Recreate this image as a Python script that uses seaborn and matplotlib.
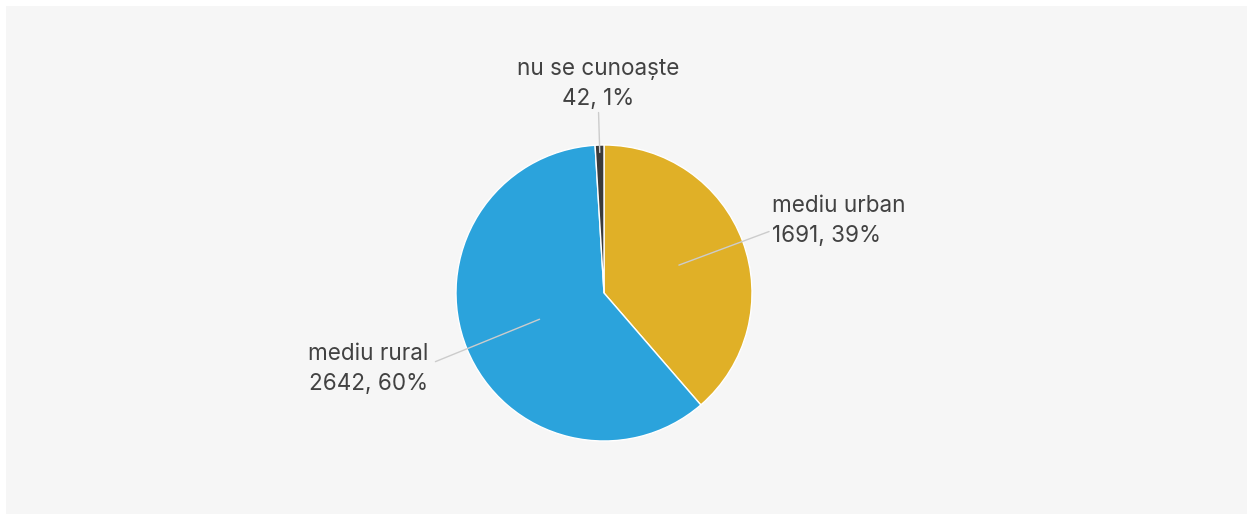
import numpy as np
import matplotlib
matplotlib.use("Agg")
import matplotlib.pyplot as plt
import seaborn as sns
from matplotlib.patches import Rectangle

categories = ["mediu urban", "mediu rural", "nu se cunoaște"]
values = [1691, 2642, 42]
percent_labels = ["39%", "60%", "1%"]
colors = ["#E0B027", "#2BA3DC", "#3A3A3A"]

sns.set_theme(style="white")
plt.rcParams['font.family'] = ['Inter', 'DejaVu Sans']

W, H = 1253, 520
fig = plt.figure(figsize=(W / 100, H / 100), dpi=100)
fig.patches.append(Rectangle((6 / W, 6 / H), (W - 12) / W, (H - 12) / H,
                             transform=fig.transFigure, facecolor="#F6F6F6",
                             edgecolor="none", zorder=-10))
R = 148.0
cx, cy = 604, 293
ax = fig.add_axes([0, 0, 1, 1])
ax.set_facecolor("none")
ax.patch.set_visible(False)

wedges, _ = ax.pie(values, colors=colors, startangle=90, counterclock=False,
                   radius=1.0, center=(0, 0),
                   wedgeprops=dict(edgecolor="white", linewidth=1.0))
ax.set_xlim(-cx / R, (W - cx) / R)
ax.set_ylim(-(H - cy) / R, cy / R)
ax.set_aspect("equal")
ax.axis("off")

# leader line radii and text placement per slice
line_r = [(0.54, 1.19), (0.47, 1.23), (0.95, 1.22)]
text_pos = [(1.135, 0.485, "left"), (-1.19, -0.515, "right"), (-0.04, 1.41, "center")]
for w, cat, v, p, (r0, r1), (tx, ty, ha) in zip(wedges, categories, values,
                                                  percent_labels, line_r, text_pos):
    ang = np.deg2rad((w.theta1 + w.theta2) / 2)
    ax.plot([r0 * np.cos(ang), r1 * np.cos(ang)],
            [r0 * np.sin(ang), r1 * np.sin(ang)],
            color="#CCCCCC", lw=1.0, zorder=5)
    ax.text(tx, ty, f"{cat}\n{v}, {p}", ha=ha, va="center", fontsize=16.2,
            color="#424242", linespacing=1.45, multialignment=ha)

fig.savefig("out.png", dpi=100)
